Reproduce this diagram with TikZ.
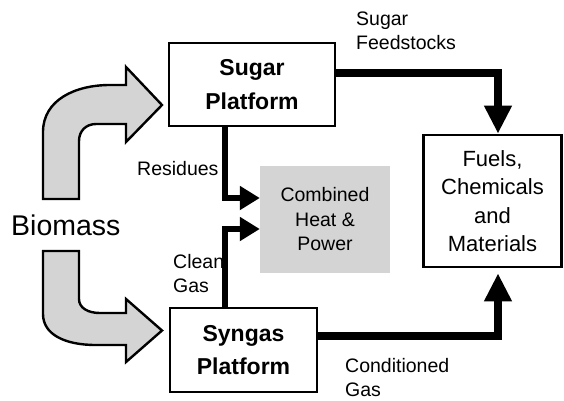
\documentclass[tikz,border=0pt]{standalone}
\usepackage{fontspec}
\setmainfont{Liberation Sans}
\usetikzlibrary{arrows.meta}
\definecolor{lgray}{HTML}{D4D4D4}
\begin{document}
\begin{tikzpicture}[x=1pt,y=-1pt,
  box/.style={draw=black, line width=2.6pt, fill=white, inner sep=0pt, align=center},
  platf/.style={font=\bfseries\fontsize{23}{34}\selectfont},
  lbl/.style={inner sep=0pt, anchor=base west, align=left, font=\fontsize{19.5}{24}\selectfont},
  bigflow/.style={line width=8.5pt, line join=miter, -{Triangle[width=26pt,length=28pt]}},
  smallflow/.style={line width=6pt, line join=miter, -{Triangle[width=23pt,length=20pt]}},
  bentarrow/.style={draw=black, line width=2.4pt, fill=lgray, line join=miter}]
\useasboundingbox (0,0) rectangle (564,400);
\fill[white] (0,0) rectangle (564,400);

% boxes
\node[box, platf, minimum width=166pt, minimum height=83pt] (sugar) at (252,84.5) {Sugar\\Platform};
\node[box, platf, minimum width=147pt, minimum height=84pt, font=\bfseries\fontsize{23}{33}\selectfont] (syngas) at (243.5,350) {Syngas\\Platform};
\node[box, minimum width=138pt, minimum height=132pt, font=\fontsize{22}{28.5}\selectfont] (fuels) at (492.5,201) {Fuels,\\Chemicals\\and\\Materials};
\node[fill=lgray, inner sep=0pt, minimum width=130pt, minimum height=107pt, align=center, font=\fontsize{19.5}{24.5}\selectfont] (chp) at (325,219.5) {Combined\\Heat \&\\Power};

% biomass
\node[inner sep=0pt, anchor=base west, font=\fontsize{28.5}{32}\selectfont] (bio) at (11,235) {Biomass};

% curved biomass arrows
\path[bentarrow] (43,199) -- (43,132) .. controls (43,100) and (75,85) .. (110,85) -- (126,85) -- (126,67) -- (162,105) -- (126,142) -- (126,124) -- (96,124) .. controls (86,124) and (79,131) .. (79,141) -- (79,199) -- cycle;
\path[bentarrow] (43,251) -- (79,251) -- (79,299) .. controls (79,308) and (88,313) .. (100,313) -- (126,313) -- (126,299) -- (162,330.5) -- (126,362) -- (126,345) -- (96,345) .. controls (64,345) and (43,334) .. (43,314) -- cycle;

% routing coordinates
\coordinate (sf) at (498,73);
\coordinate (cg) at (498,336);
\coordinate (res) at (225,198);
\coordinate (cln) at (225,229);

% flows
\draw[bigflow] (sugar.east |- sf) -| (fuels.north -| sf);
\draw[bigflow, shorten >=5pt] (syngas.east |- cg) -| (fuels.south -| cg);
\draw[smallflow] (sugar.south -| res) |- (chp.west |- res);
\draw[smallflow] (syngas.north -| cln) |- (chp.west |- cln);

% labels (base = last line's baseline)
\node[lbl] (lsf) at (356,49) {Sugar\\Feedstocks};
\node[lbl] (lres) at (137,175) {Residues};
\node[lbl] (lcln) at (173,292) {Clean\\Gas};
\node[lbl] (lcg) at (345,396) {Conditioned\\Gas};
\end{tikzpicture}
\end{document}
